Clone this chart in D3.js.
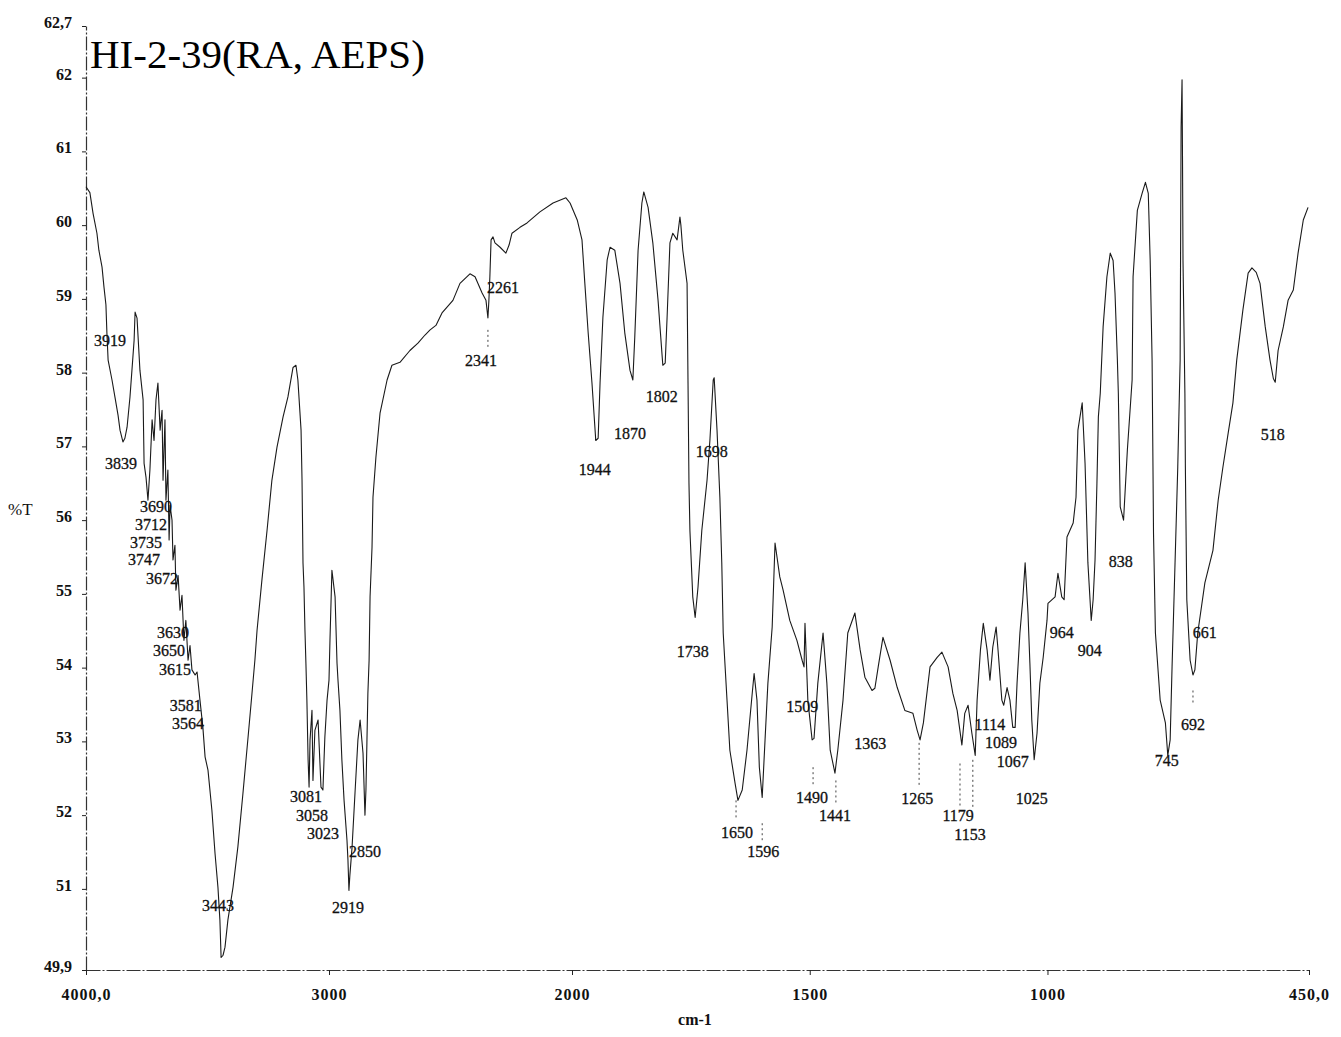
<!DOCTYPE html>
<html><head><meta charset="utf-8">
<script src="https://cdn.jsdelivr.net/npm/d3@7"></script>
<style>
body{margin:0;background:#fff;}
svg{display:block;}
</style></head><body>
<svg id="chart" width="1341" height="1037"></svg>
<script>
const title = "HI-2-39(RA, AEPS)";
const yLabel = "%T";
const xLabel = "cm-1";
const xTickValues = [4000, 3000, 2000, 1500, 1000, 450];
const xTickLabels = ["4000,0", "3000", "2000", "1500", "1000", "450,0"];
const yTickValues = [49.9, 51, 52, 53, 54, 55, 56, 57, 58, 59, 60, 61, 62, 62.7];
const yTickLabels = ["49,9", "51", "52", "53", "54", "55", "56", "57", "58", "59", "60", "61", "62", "62,7"];

// [wavenumber cm-1, %T]
const spectrum = [
[4000,60.52],[3984,60.44],[3971,60.16],[3955,59.89],[3947,59.66],[3934,59.43],[3926,59.16],[3918,58.92],[3914,58.54],[3909,58.17],[3893,57.90],[3881,57.67],[3868,57.42],[3860,57.22],[3848,57.06],[3840,57.11],[3831,57.26],[3819,57.67],[3811,58.03],[3802,58.44],[3798,58.82],[3790,58.74],[3778,58.03],[3765,57.63],[3761,56.77],[3753,56.58],[3745,56.27],[3737,56.68],[3728,57.36],[3720,57.08],[3712,57.63],[3704,57.86],[3695,57.22],[3687,57.49],[3683,56.54],[3675,57.36],[3671,56.27],[3663,56.68],[3658,55.73],[3654,56.20],[3646,56.00],[3642,55.46],[3634,55.66],[3630,55.05],[3621,55.25],[3613,54.78],[3605,54.98],[3597,54.37],[3589,54.64],[3580,54.10],[3572,54.30],[3564,53.97],[3551,53.90],[3543,53.94],[3531,53.56],[3519,53.19],[3510,52.79],[3498,52.61],[3482,52.07],[3469,51.48],[3457,51.02],[3449,50.58],[3444,50.07],[3436,50.10],[3428,50.21],[3416,50.58],[3395,51.02],[3375,51.57],[3354,52.30],[3333,53.06],[3317,53.65],[3305,54.10],[3296,54.51],[3276,55.19],[3255,55.86],[3235,56.54],[3214,56.99],[3189,57.40],[3169,57.67],[3148,58.07],[3136,58.10],[3128,57.90],[3115,57.22],[3111,56.54],[3107,55.42],[3103,55.09],[3099,54.51],[3095,54.06],[3091,53.56],[3086,52.75],[3082,52.38],[3078,53.02],[3070,53.42],[3066,52.47],[3058,53.15],[3045,53.29],[3033,52.38],[3025,52.34],[3017,53.06],[3008,53.56],[3000,53.83],[2996,54.37],[2988,55.32],[2975,54.96],[2967,54.06],[2963,53.83],[2955,53.42],[2947,52.75],[2938,52.20],[2926,51.66],[2922,51.39],[2918,50.98],[2914,51.19],[2905,51.57],[2893,52.30],[2881,53.02],[2872,53.29],[2860,52.84],[2852,52.00],[2848,52.34],[2844,52.98],[2840,53.65],[2835,54.10],[2831,54.96],[2823,55.63],[2819,56.31],[2807,56.85],[2790,57.45],[2761,57.90],[2741,58.10],[2708,58.14],[2667,58.30],[2634,58.40],[2605,58.51],[2584,58.58],[2560,58.64],[2535,58.81],[2490,58.98],[2461,59.21],[2420,59.34],[2399,59.30],[2370,59.08],[2354,58.98],[2346,58.74],[2342,58.98],[2338,59.30],[2333,59.80],[2325,59.84],[2317,59.76],[2296,59.70],[2272,59.62],[2259,59.73],[2247,59.89],[2214,59.97],[2185,60.03],[2132,60.18],[2078,60.30],[2025,60.37],[2008,60.30],[1989,60.07],[1979,59.80],[1973,59.21],[1966,58.54],[1958,57.86],[1950,57.08],[1945,57.11],[1941,57.86],[1935,58.75],[1926,59.53],[1920,59.70],[1910,59.66],[1899,59.21],[1889,58.54],[1878,58.03],[1872,57.90],[1868,58.48],[1861,59.66],[1853,60.30],[1849,60.45],[1840,60.24],[1830,59.76],[1819,58.98],[1809,58.10],[1804,58.13],[1800,58.75],[1794,59.76],[1788,59.89],[1779,59.80],[1773,60.11],[1771,60.00],[1767,59.66],[1758,59.21],[1756,57.86],[1754,56.50],[1752,55.86],[1746,54.96],[1741,54.68],[1735,55.09],[1727,55.86],[1716,56.54],[1710,57.08],[1703,57.90],[1701,57.93],[1695,57.22],[1689,56.31],[1685,55.42],[1682,54.47],[1674,53.56],[1668,52.88],[1657,52.43],[1651,52.20],[1642,52.34],[1632,52.88],[1621,53.65],[1617,53.92],[1611,53.56],[1606,52.65],[1600,52.24],[1594,53.02],[1588,53.79],[1579,54.55],[1573,55.69],[1563,55.23],[1556,55.05],[1542,54.64],[1527,54.37],[1516,54.10],[1512,54.01],[1510,54.60],[1504,53.56],[1495,53.02],[1491,53.04],[1483,53.79],[1472,54.47],[1464,53.79],[1457,52.88],[1447,52.57],[1441,52.88],[1430,53.56],[1420,54.47],[1405,54.74],[1394,54.24],[1384,53.87],[1369,53.69],[1363,53.72],[1356,54.01],[1346,54.41],[1331,54.10],[1316,53.73],[1300,53.42],[1283,53.38],[1274,53.15],[1268,53.02],[1261,53.25],[1247,54.01],[1232,54.14],[1222,54.21],[1209,54.01],[1199,53.65],[1190,53.42],[1180,52.95],[1174,53.38],[1167,53.49],[1159,53.11],[1152,52.81],[1148,53.56],[1141,54.24],[1135,54.60],[1127,54.24],[1121,53.83],[1115,54.28],[1108,54.55],[1104,54.24],[1096,53.56],[1092,53.49],[1085,53.73],[1079,53.56],[1073,53.19],[1068,53.19],[1064,53.79],[1058,54.47],[1052,54.92],[1047,55.42],[1041,54.74],[1037,54.06],[1033,53.29],[1028,52.75],[1022,53.11],[1016,53.79],[1009,54.14],[1001,54.64],[999,54.87],[984,54.96],[978,55.28],[970,54.96],[965,54.92],[959,55.77],[946,55.96],[940,56.31],[936,57.22],[927,57.59],[921,56.77],[915,55.42],[908,54.64],[904,54.92],[900,55.46],[896,56.50],[893,57.40],[889,57.72],[883,58.62],[875,59.30],[868,59.62],[862,59.52],[858,59.08],[853,58.17],[851,57.72],[847,56.18],[840,56.00],[832,56.95],[822,57.90],[820,59.30],[811,60.20],[801,60.43],[794,60.58],[788,60.43],[784,59.52],[780,58.17],[777,55.82],[773,54.47],[763,53.56],[752,53.25],[747,52.81],[742,53.02],[738,54.01],[732,55.36],[726,56.72],[721,58.17],[719,61.33],[717,61.97],[716,60.88],[715,59.52],[711,57.72],[710,56.72],[707,54.92],[700,54.10],[694,53.90],[690,53.97],[684,54.47],[669,55.15],[652,55.59],[641,56.27],[631,56.72],[620,57.18],[610,57.59],[602,58.17],[589,58.85],[578,59.35],[570,59.42],[561,59.36],[553,59.21],[542,58.62],[532,58.17],[525,57.92],[521,57.87],[515,58.30],[504,58.62],[494,58.98],[483,59.12],[473,59.62],[462,60.07],[452,60.24]
];

// peak annotations: text, label position (wavenumber, %T)
const peakLabels = ["3919","3839","3690","3712","3735","3747","3672","3630","3650","3615","3581","3564","3443","3081","3058","3023","2850","2919","2341","2261","1944","1870","1802","1698","1738","1650","1596","1509","1490","1441","1363","1265","1179","1153","1114","1089","1067","1025","964","904","838","745","692","661","518"];
const peakLabelWn = [3901,3856,3712,3733,3753,3761,3687,3642,3658,3634,3589,3580,3457,3095,3070,3025,2852,2922,2375,2284,1952,1878,1811,1706,1746,1653,1598,1516,1495,1447,1373,1274,1188,1163,1121,1098,1073,1033,970,911,846,749,694,669,526];
const peakLabelT = [58.36,56.70,56.11,55.86,55.62,55.39,55.13,54.40,54.16,53.90,53.41,53.17,50.70,52.18,51.92,51.67,51.43,50.67,58.09,59.08,56.61,57.10,57.60,56.85,54.14,51.69,51.43,53.40,52.16,51.92,52.89,52.15,51.92,51.66,53.15,52.91,52.65,52.15,54.40,54.16,55.36,52.66,53.15,54.40,57.09];

// dotted leader marks under some minima: wavenumber, top %T, bottom %T
const leaderWn = [2346, 1655, 1600, 1493, 1445, 1270, 1184, 1157, 694];
const leaderTop = [58.58, 52.20, 51.89, 52.65, 52.47, 52.98, 52.70, 52.75, 53.69];
const leaderBottom = [58.35, 51.93, 51.66, 52.38, 52.16, 52.38, 52.11, 52.11, 53.52];

const svg = d3.select("#chart");
svg.append("rect").attr("width", 1341).attr("height", 1037).attr("fill", "#fff");

const x = d3.scaleLinear().domain([4000, 2000, 450]).range([86, 572, 1309]);
const y = d3.scaleLinear().domain([49.9, 62.7]).range([970, 26]);

const serif = "'Liberation Serif', 'Times New Roman', serif";

// Y axis
const yAxis = d3.axisLeft(y)
  .tickValues(yTickValues)
  .tickFormat(d => yTickLabels[yTickValues.indexOf(d)])
  .tickSize(4).tickSizeOuter(0).tickPadding(10);
const gy = svg.append("g").attr("transform", "translate(86,0)").call(yAxis);
gy.select(".domain").attr("stroke", "#333").attr("stroke-width", 1.2).attr("stroke-dasharray", "14,2,2,2");
gy.selectAll(".tick line").attr("stroke", "#222");
gy.selectAll(".tick text").attr("font-family", serif).attr("font-weight", "bold")
  .attr("font-size", 16).attr("fill", "#111").attr("dy", "0.1em");

// X axis
const xAxis = d3.axisBottom(x)
  .tickValues(xTickValues)
  .tickFormat(d => xTickLabels[xTickValues.indexOf(d)])
  .tickSize(5).tickSizeOuter(0).tickPadding(14);
const gx = svg.append("g").attr("transform", "translate(0,970)").call(xAxis);
gx.select(".domain").attr("stroke", "#333").attr("stroke-width", 1.2).attr("stroke-dasharray", "14,2,2,2");
gx.selectAll(".tick line").attr("stroke", "#222");
gx.selectAll(".tick text").attr("font-family", serif).attr("font-weight", "bold")
  .attr("font-size", 16).attr("letter-spacing", "1px").attr("fill", "#111");

// Leader marks
svg.append("g").selectAll("line").data(leaderWn).join("line")
  .attr("x1", d => x(d)).attr("x2", d => x(d))
  .attr("y1", (d, i) => y(leaderTop[i])).attr("y2", (d, i) => y(leaderBottom[i]))
  .attr("stroke", "#444").attr("stroke-width", 1).attr("stroke-dasharray", "2,3");

// Spectrum line
const line = d3.line().x(d => x(d[0])).y(d => y(d[1]));
svg.append("path").datum(spectrum)
  .attr("d", line)
  .attr("fill", "none")
  .attr("stroke", "#1a1a1a")
  .attr("stroke-width", 1.1)
  .attr("stroke-linejoin", "round");

// Peak labels
svg.append("g").selectAll("text").data(peakLabels).join("text")
  .attr("x", (d, i) => x(peakLabelWn[i]))
  .attr("y", (d, i) => y(peakLabelT[i]))
  .attr("text-anchor", "middle")
  .attr("font-family", serif)
  .attr("font-size", 16)
  .attr("fill", "#111")
  .attr("stroke", "#111")
  .attr("stroke-width", 0.3)
  .text(d => d);

// Title
svg.append("text").attr("x", 90).attr("y", 68)
  .attr("font-family", serif).attr("font-size", 41).attr("fill", "#000")
  .text(title);

// Axis titles
svg.append("text").attr("x", 8).attr("y", 515)
  .attr("font-family", serif).attr("font-size", 17).attr("fill", "#111")
  .text(yLabel);
svg.append("text").attr("x", 695).attr("y", 1025).attr("text-anchor", "middle")
  .attr("font-family", serif).attr("font-weight", "bold").attr("font-size", 16).attr("fill", "#111")
  .text(xLabel);
</script>
</body></html>
